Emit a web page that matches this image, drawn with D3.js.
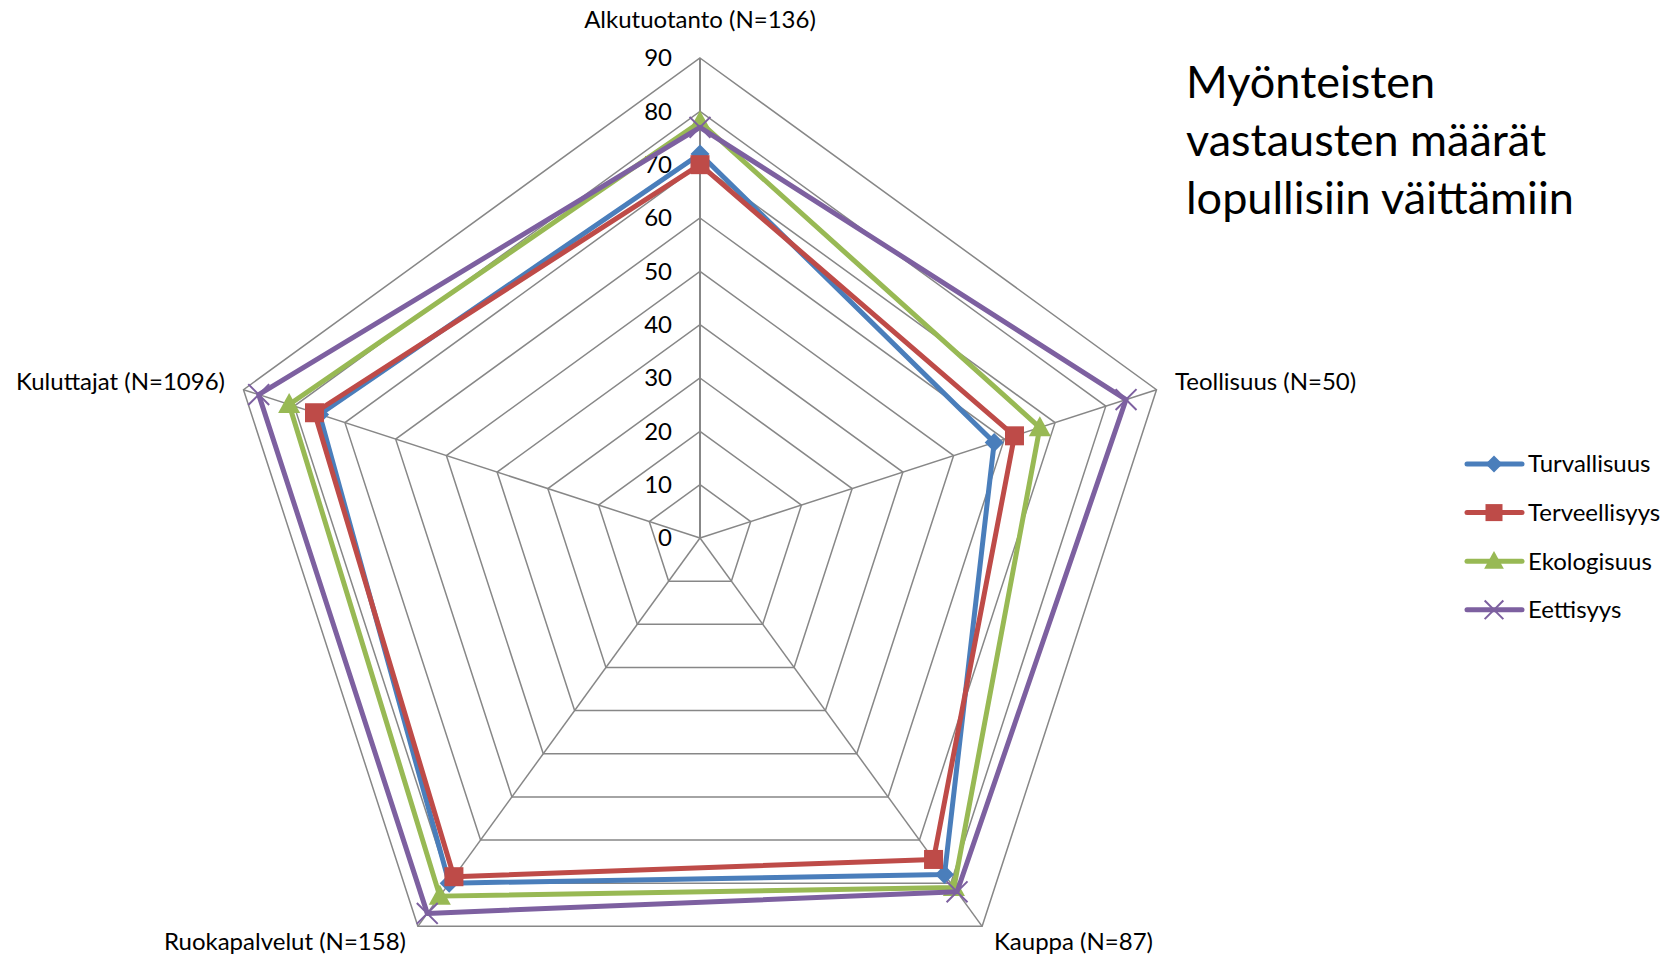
<!DOCTYPE html>
<html>
<head>
<meta charset="utf-8">
<script src="https://cdn.jsdelivr.net/npm/d3@7"></script>
<style>
  body { margin: 0; background: #fff; }
  svg { display: block; font-family: Lato, "Open Sans", sans-serif; }
</style>
</head>
<body>
<svg id="chart"></svg>
<script>
// axes (categories) in clockwise order starting from the top
const categories = ["Alkutuotanto (N=136)", "Teollisuus (N=50)", "Kauppa (N=87)", "Ruokapalvelut (N=158)", "Kuluttajat (N=1096)"];
const seriesNames = ["Turvallisuus", "Terveellisyys", "Ekologisuus", "Eettisyys"];
const turvallisuus = [72, 58, 78, 80, 75];
const terveellisyys = [70, 62, 74.5, 78.5, 76];
const ekologisuus = [78, 67, 81, 83, 81];
const eettisyys = [77, 84, 82, 87, 87];
const ticks = [0, 10, 20, 30, 40, 50, 60, 70, 80, 90];
const titleLines = ["Myönteisten", "vastausten määrät", "lopullisiin väittämiin"];

const colors = ["#4a7ebb", "#be4b48", "#98b954", "#7d60a0"];
const markers = ["diamond", "square", "triangle", "cross"];
const allSeries = [turvallisuus, terveellisyys, ekologisuus, eettisyys];

const W = 1678, H = 956;
const cx = 700, cy = 538, R = 480;

const svg = d3.select("#chart").attr("width", W).attr("height", H);

const rScale = d3.scaleLinear().domain([0, 90]).range([0, R]);
const aScale = d3.scaleLinear().domain([0, categories.length]).range([0, 2 * Math.PI]);

function pt(i, v) {
    const a = aScale(i);
    return [cx + rScale(v) * Math.sin(a), cy - rScale(v) * Math.cos(a)];
}

const grid = svg.append("g").attr("class", "grid");

// rings
grid.selectAll(".ring")
    .data(ticks.filter(t => t > 0))
    .join("polygon")
    .attr("class", "ring")
    .attr("points", t => categories.map((c, i) => pt(i, t).join(",")).join(" "))
    .attr("fill", "none")
    .attr("stroke", "#878787")
    .attr("stroke-width", 1.5);

// spokes
grid.selectAll(".spoke")
    .data(categories)
    .join("line")
    .attr("class", "spoke")
    .attr("x1", cx).attr("y1", cy)
    .attr("x2", (d, i) => pt(i, 90)[0])
    .attr("y2", (d, i) => pt(i, 90)[1])
    .attr("stroke", "#878787")
    .attr("stroke-width", (d, i) => i === 0 ? 2 : 1.5);

// tick labels
svg.append("g").selectAll("text")
    .data(ticks)
    .join("text")
    .attr("x", cx - 28)
    .attr("y", t => cy - rScale(t))
    .attr("dy", "0.35em")
    .attr("text-anchor", "end")
    .attr("font-size", 24)
    .attr("fill", "#000")
    .text(t => t);

// category labels
const labelPos = [
    { x: 700, y: 28, anchor: "middle" },
    { x: 1175, y: 390, anchor: "start" },
    { x: 994, y: 950, anchor: "start" },
    { x: 406, y: 950, anchor: "end" },
    { x: 225, y: 390, anchor: "end" }
];
svg.append("g").selectAll("text")
    .data(categories)
    .join("text")
    .attr("x", (d, i) => labelPos[i].x)
    .attr("y", (d, i) => labelPos[i].y)
    .attr("text-anchor", (d, i) => labelPos[i].anchor)
    .attr("font-size", 24)
    .attr("fill", "#000")
    .text(d => d);

function drawMarker(g, type, x, y, color, s) {
    if (type === "diamond") {
        const h = s * 0.5;
        g.append("path")
            .attr("d", `M${x},${y - h}L${x + h},${y}L${x},${y + h}L${x - h},${y}Z`)
            .attr("fill", color);
    } else if (type === "square") {
        g.append("rect")
            .attr("x", x - s / 2).attr("y", y - s / 2)
            .attr("width", s).attr("height", s)
            .attr("fill", color);
    } else if (type === "triangle") {
        g.append("path")
            .attr("d", `M${x},${y - s * 0.6}L${x + s * 0.58},${y + s * 0.45}L${x - s * 0.58},${y + s * 0.45}Z`)
            .attr("fill", color);
    } else {
        const h = s * 0.55;
        g.append("path")
            .attr("d", `M${x - h},${y - h}L${x + h},${y + h}M${x + h},${y - h}L${x - h},${y + h}`)
            .attr("stroke", color)
            .attr("stroke-width", 2);
    }
}

const line = d3.line().curve(d3.curveLinearClosed);

allSeries.forEach((vals, k) => {
    const g = svg.append("g").attr("class", "series");
    const pts = vals.map((v, i) => pt(i, v));
    g.append("path")
        .attr("d", line(pts))
        .attr("fill", "none")
        .attr("stroke", colors[k])
        .attr("stroke-width", 5)
        .attr("stroke-linejoin", "round");
    pts.forEach(p => drawMarker(g, markers[k], p[0], p[1], colors[k], 19));
});

// title
svg.append("text")
    .attr("x", 1186)
    .attr("y", 98)
    .attr("font-size", 45)
    .attr("fill", "#000")
    .selectAll("tspan")
    .data(titleLines)
    .join("tspan")
    .attr("x", 1186)
    .attr("dy", (d, i) => i === 0 ? 0 : 58)
    .text(d => d);

// legend
const legend = svg.append("g").attr("class", "legend");
seriesNames.forEach((name, k) => {
    const y = 464 + k * 48.6;
    const g = legend.append("g");
    g.append("line")
        .attr("x1", 1467).attr("x2", 1522)
        .attr("y1", y).attr("y2", y)
        .attr("stroke", colors[k])
        .attr("stroke-width", 5)
        .attr("stroke-linecap", "round");
    drawMarker(g, markers[k], 1494, y, colors[k], 17);
    g.append("text")
        .attr("x", 1528)
        .attr("y", y)
        .attr("dy", "0.35em")
        .attr("font-size", 24)
        .attr("fill", "#000")
        .text(name);
});
</script>
</body>
</html>
